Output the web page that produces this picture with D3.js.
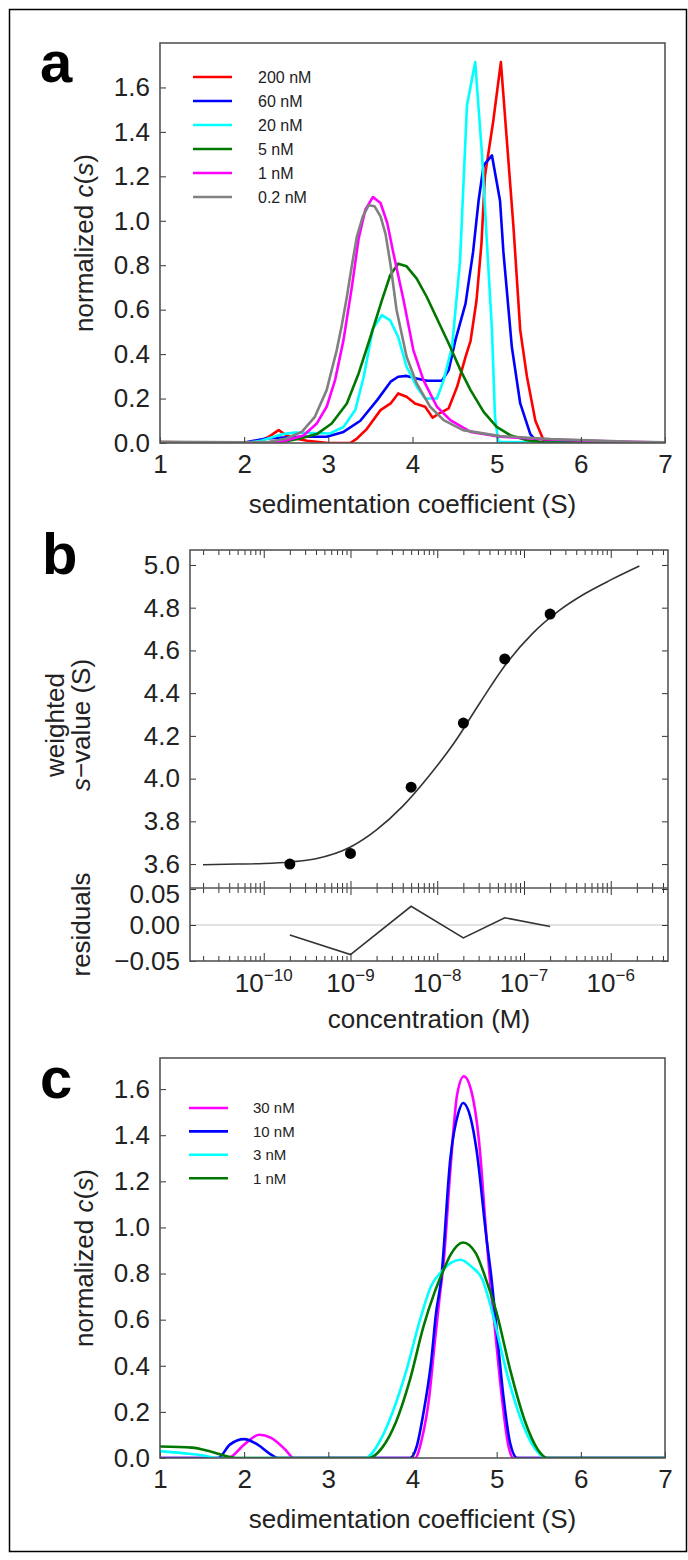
<!DOCTYPE html>
<html>
<head>
<meta charset="utf-8">
<script src="https://cdn.jsdelivr.net/npm/d3@7"></script>
<style>
  body { margin: 0; background: #fff; }
</style>
</head>
<body>
<script>
// ---- panel a: c(s) at several loading concentrations ----
const aNames = ["200 nM", "60 nM", "20 nM", "5 nM", "1 nM", "0.2 nM"];
const aColors = ["#ff0000", "#0000ff", "#00ffff", "#007800", "#ff00ff", "#808080"];
const a200 = [[1.0,0.004],[1.5,0.002],[2.0,0.0],[2.2,0.01],[2.3,0.03],[2.41,0.058],[2.5,0.035],[2.6,0.02],[2.75,0.01],[3.0,0.0],[3.26,0.0],[3.34,0.02],[3.45,0.06],[3.62,0.148],[3.74,0.178],[3.83,0.223],[3.93,0.208],[4.03,0.178],[4.15,0.163],[4.24,0.114],[4.33,0.136],[4.43,0.156],[4.53,0.253],[4.63,0.388],[4.69,0.46],[4.76,0.64],[4.82,0.9],[4.86,1.2],[4.96,1.45],[5.05,1.714],[5.2,0.97],[5.28,0.508],[5.36,0.298],[5.46,0.1],[5.56,0.01],[6.0,0.003],[7.0,0.0]];
const a60 = [[1.0,0.0],[1.97,0.0],[2.26,0.02],[2.46,0.025],[2.67,0.028],[2.98,0.028],[3.18,0.05],[3.38,0.1],[3.58,0.193],[3.74,0.276],[3.83,0.298],[3.93,0.302],[4.05,0.29],[4.17,0.28],[4.35,0.28],[4.43,0.328],[4.51,0.463],[4.63,0.627],[4.72,0.86],[4.785,1.09],[4.845,1.249],[4.944,1.294],[5.04,1.09],[5.08,0.86],[5.18,0.433],[5.28,0.178],[5.4,0.04],[5.48,0.005],[6.0,0.002],[7.0,0.0]];
const a20 = [[1.0,0.0],[2.0,0.0],[2.2,0.01],[2.46,0.04],[2.6,0.047],[3.02,0.043],[3.18,0.072],[3.32,0.148],[3.42,0.298],[3.53,0.515],[3.636,0.575],[3.735,0.552],[3.83,0.477],[3.93,0.343],[4.05,0.253],[4.15,0.2],[4.29,0.2],[4.37,0.283],[4.47,0.433],[4.565,0.82],[4.647,1.519],[4.745,1.714],[4.825,1.302],[4.88,0.93],[4.944,0.508],[4.98,0.117],[5.02,0.005],[6.0,0.0],[7.0,0.0]];
const a5 = [[1.0,0.0],[2.39,0.0],[2.665,0.02],[2.863,0.04],[3.04,0.088],[3.22,0.178],[3.36,0.313],[3.5,0.477],[3.636,0.642],[3.735,0.755],[3.83,0.807],[3.93,0.795],[4.05,0.74],[4.17,0.657],[4.29,0.56],[4.43,0.448],[4.57,0.328],[4.69,0.238],[4.845,0.14],[5.0,0.073],[5.16,0.035],[5.36,0.012],[5.56,0.003],[7.0,0.0]];
const a1 = [[1.0,0.0],[2.3,0.0],[2.46,0.008],[2.704,0.034],[2.863,0.088],[2.98,0.163],[3.08,0.283],[3.18,0.463],[3.28,0.703],[3.36,0.92],[3.44,1.05],[3.53,1.107],[3.62,1.08],[3.7,0.99],[3.77,0.86],[3.894,0.642],[4.01,0.418],[4.13,0.283],[4.29,0.163],[4.45,0.103],[4.69,0.05],[5.04,0.028],[5.64,0.016],[6.43,0.006],[7.0,0.002]];
const a02 = [[1.0,0.005],[2.0,0.003],[2.3,0.005],[2.5,0.02],[2.685,0.05],[2.84,0.118],[2.98,0.238],[3.1,0.418],[3.16,0.53],[3.22,0.657],[3.28,0.8],[3.34,0.93],[3.41,1.02],[3.48,1.07],[3.55,1.065],[3.62,1.02],[3.68,0.94],[3.74,0.8],[3.81,0.6],[3.93,0.388],[4.05,0.268],[4.21,0.163],[4.37,0.103],[4.6,0.058],[5.04,0.031],[5.64,0.018],[6.62,0.005],[7.0,0.003]];

// ---- panel b: weighted s vs concentration ----
const bConc = [2e-10, 1e-9, 5e-9, 2e-8, 6e-8, 2e-7];
const bSw = [3.60, 3.65, 3.96, 4.26, 4.56, 4.77];
const bResid = [-0.014, -0.041, 0.026, -0.018, 0.010, -0.002];
// fitted isotherm: [log10 concentration, s]
const bFit = [[-10.7,3.597],[-10.3,3.6],[-10.0,3.603],[-9.7,3.61],[-9.4,3.625],[-9.0,3.68],[-8.7,3.76],[-8.4,3.87],[-8.1,4.01],[-7.8,4.17],[-7.5,4.36],[-7.2,4.54],[-6.9,4.68],[-6.6,4.785],[-6.3,4.865],[-6.0,4.93],[-5.67,4.995]];
const bYTicks = [3.6, 3.8, 4.0, 4.2, 4.4, 4.6, 4.8, 5.0];
const bRTicks = [-0.05, 0, 0.05];
const bDecades = [-10, -9, -8, -7, -6];

// ---- panel c ----
const cNames = ["30 nM", "10 nM", "3 nM", "1 nM"];
const cColors = ["#ff00ff", "#0000ff", "#00ffff", "#007800"];
const c30 = [[1.0,0.0],[1.81,0.0],[2.0,0.058],[2.18,0.101],[2.32,0.087],[2.49,0.036],[2.59,0.0],[4.03,0.0],[4.11,0.08],[4.2,0.268],[4.26,0.485],[4.32,0.69],[4.37,0.85],[4.45,1.25],[4.53,1.576],[4.61,1.656],[4.7,1.59],[4.8,1.338],[4.87,1.0],[4.92,0.774],[4.98,0.557],[5.06,0.268],[5.14,0.051],[5.2,0.0],[7.0,0.0]];
const c10 = [[1.0,0.0],[1.69,0.0],[1.83,0.058],[2.0,0.082],[2.16,0.058],[2.32,0.015],[2.4,0.0],[3.97,0.0],[4.05,0.05],[4.13,0.195],[4.22,0.412],[4.28,0.629],[4.34,0.774],[4.45,1.3],[4.545,1.497],[4.6,1.54],[4.695,1.468],[4.76,1.338],[4.88,0.95],[4.94,0.774],[5.0,0.557],[5.08,0.268],[5.16,0.065],[5.245,0.0],[7.0,0.0]];
const c3 = [[1.0,0.03],[1.3,0.02],[1.5,0.012],[1.7,0.0],[3.44,0.0],[3.6,0.065],[3.76,0.195],[3.93,0.383],[4.09,0.6],[4.22,0.745],[4.35,0.81],[4.45,0.845],[4.57,0.86],[4.7,0.83],[4.83,0.774],[4.96,0.615],[5.12,0.369],[5.29,0.166],[5.45,0.043],[5.6,0.0],[7.0,0.0]];
const c1 = [[1.0,0.05],[1.38,0.045],[1.58,0.03],[1.79,0.008],[1.9,0.0],[3.48,0.0],[3.64,0.045],[3.8,0.153],[3.97,0.34],[4.13,0.57],[4.26,0.716],[4.34,0.79],[4.45,0.88],[4.6,0.935],[4.75,0.89],[4.874,0.774],[5.0,0.629],[5.16,0.383],[5.33,0.166],[5.49,0.036],[5.6,0.0],[7.0,0.0]];

const sTicks = [1, 2, 3, 4, 5, 6, 7];
const cYTicks = [0, 0.2, 0.4, 0.6, 0.8, 1.0, 1.2, 1.4, 1.6];

const FONT = '"Liberation Sans", Arial, Helvetica, sans-serif';
const INK = "#222";

const svg = d3.select("body").append("svg")
    .attr("width", 688)
    .attr("height", 1560)
    .style("font-family", FONT);

// outer border
svg.append("rect")
    .attr("x", 9.5).attr("y", 9.5)
    .attr("width", 677).attr("height", 1542)
    .attr("fill", "none").attr("stroke", "#000").attr("stroke-width", 1.5);

function tidy(g, size) {
  g.attr("font-family", null).attr("font-size", size).attr("color", "#333");
  g.select(".domain").remove();
  g.selectAll("text").attr("fill", INK);
}

// c(s) panel (a and c)
function distPanel(id, top, ymax, series, names, colors, leg) {
  const left = 160, right = 665, bottom = top + 400;
  const x = d3.scaleLinear().domain([1, 7]).range([left, right]);
  const y = d3.scaleLinear().domain([0, ymax]).range([bottom, top]);
  const g = svg.append("g");

  g.append("clipPath").attr("id", "clip" + id)
    .append("rect").attr("x", left).attr("y", top)
    .attr("width", right - left).attr("height", bottom - top);

  const line = d3.line().x(d => x(d[0])).y(d => y(d[1])).curve(leg.curve);
  const curves = g.append("g").attr("clip-path", `url(#clip${id})`);
  series.forEach((s, i) => {
    curves.append("path").datum(s)
      .attr("d", line)
      .attr("fill", "none")
      .attr("stroke", colors[i])
      .attr("stroke-width", 2.6)
      .attr("stroke-linejoin", "round");
  });

  g.append("g").attr("transform", `translate(0,${bottom})`)
    .call(d3.axisBottom(x).tickValues(sTicks).tickSize(-6).tickPadding(12).tickFormat(d3.format("d")))
    .call(a => tidy(a, 26));
  g.append("g").attr("transform", `translate(${left},0)`)
    .call(d3.axisLeft(y).tickValues(cYTicks).tickSize(-6).tickPadding(10).tickFormat(d3.format(".1f")))
    .call(a => tidy(a, 26));

  g.append("rect").attr("x", left).attr("y", top)
    .attr("width", right - left).attr("height", bottom - top)
    .attr("fill", "none").attr("stroke", "#555").attr("stroke-width", 1.6);

  // legend
  names.forEach((n, i) => {
    const yy = leg.y + i * leg.step;
    g.append("line").attr("x1", leg.x).attr("x2", leg.x + 39)
      .attr("y1", yy).attr("y2", yy)
      .attr("stroke", colors[i]).attr("stroke-width", 2.6);
    g.append("text").attr("x", leg.tx).attr("y", yy).attr("dy", "0.36em")
      .attr("font-size", leg.font).attr("fill", INK).text(n);
  });

  // axis titles
  g.append("text").attr("x", (left + right) / 2).attr("y", bottom + 70)
    .attr("text-anchor", "middle").attr("font-size", 26).attr("fill", INK)
    .text("sedimentation coefficient (S)");
  const yt = g.append("text")
    .attr("transform", `translate(93,${(top + bottom) / 2}) rotate(-90)`)
    .attr("text-anchor", "middle").attr("font-size", 26).attr("fill", INK);
  yt.append("tspan").text("normalized ");
  yt.append("tspan").attr("font-style", "italic").text("c");
  yt.append("tspan").text("(");
  yt.append("tspan").attr("font-style", "italic").text("s");
  yt.append("tspan").text(")");
}

distPanel("a", 43, 1.8, [a200, a60, a20, a5, a1, a02], aNames, aColors,
  {x: 193, tx: 258, y: 77, step: 24, font: 16, curve: d3.curveLinear});
distPanel("c", 1058, 1.735, [c30, c10, c3, c1], cNames, cColors,
  {x: 189, tx: 253, y: 1108, step: 23.4, font: 15, curve: d3.curveMonotoneX});

// ---- panel b ----
(function () {
  const left = 190, right = 668, top = 550, mid = 888, bottom = 961;
  const x = d3.scaleLog().domain([Math.pow(10, -10.85), Math.pow(10, -5.34)]).range([left, right]);
  const y = d3.scaleLinear().domain([3.488, 5.07]).range([mid, top]);
  const yr = d3.scaleLinear().domain([-0.05, 0.05]).range([bottom, 889]);
  const g = svg.append("g");

  const all = x.ticks();
  const isMajor = v => Math.abs(Math.log10(v) - Math.round(Math.log10(v))) < 1e-6;
  const major = all.filter(isMajor);
  const minor = all.filter(v => !isMajor(v));

  // zero line in residuals
  g.append("line").attr("x1", left).attr("x2", right)
    .attr("y1", yr(0)).attr("y2", yr(0))
    .attr("stroke", "#d8d8d8").attr("stroke-width", 1.5);

  // fit curve
  g.append("path").datum(bFit)
    .attr("d", d3.line().x(d => x(Math.pow(10, d[0]))).y(d => y(d[1])).curve(d3.curveMonotoneX))
    .attr("fill", "none").attr("stroke", "#333").attr("stroke-width", 1.6);

  // data points
  g.selectAll("circle.pt").data(bConc).join("circle")
    .attr("class", "pt")
    .attr("cx", d => x(d)).attr("cy", (d, i) => y(bSw[i]))
    .attr("r", 5.5).attr("fill", "#000");

  // residual trace
  g.append("path").datum(bConc)
    .attr("d", d3.line().x(d => x(d)).y((d, i) => yr(bResid[i])))
    .attr("fill", "none").attr("stroke", "#333").attr("stroke-width", 1.6);

  // log ticks: top (inward), middle (crossing), bottom (inward)
  const tickRow = (axis, vals, size, ty) => {
    g.append("g").attr("transform", `translate(0,${ty})`)
      .call(axis(x).tickValues(vals).tickSize(size).tickFormat(""))
      .call(a => tidy(a, 10));
  };
  tickRow(d3.axisBottom, major, 8, top);
  tickRow(d3.axisBottom, minor, 5, top);
  tickRow(d3.axisBottom, major, 14, mid - 7);
  tickRow(d3.axisBottom, minor, 10, mid - 5);
  tickRow(d3.axisTop, major, 8, bottom);
  tickRow(d3.axisTop, minor, 5, bottom);

  // y ticks
  g.append("g").attr("transform", `translate(${left},0)`)
    .call(d3.axisLeft(y).tickValues(bYTicks).tickSize(-6).tickPadding(10).tickFormat(d3.format(".1f")))
    .call(a => tidy(a, 26));
  g.append("g").attr("transform", `translate(${right},0)`)
    .call(d3.axisRight(y).tickValues(bYTicks).tickSize(-6).tickFormat(""))
    .call(a => tidy(a, 26));
  g.append("g").attr("transform", `translate(${left},0)`)
    .call(d3.axisLeft(yr).tickValues(bRTicks).tickSize(-6).tickPadding(10).tickFormat(d3.format(".2f")))
    .call(a => tidy(a, 26))
    .call(a => a.selectAll("text").filter(d => d > 0.04).attr("dy", "0.5em"));
  g.append("g").attr("transform", `translate(${right},0)`)
    .call(d3.axisRight(yr).tickValues(bRTicks).tickSize(-6).tickFormat(""))
    .call(a => tidy(a, 26));

  // frames
  g.append("rect").attr("x", left).attr("y", top)
    .attr("width", right - left).attr("height", bottom - top)
    .attr("fill", "none").attr("stroke", "#555").attr("stroke-width", 1.6);
  g.append("line").attr("x1", left).attr("x2", right).attr("y1", mid).attr("y2", mid)
    .attr("stroke", "#555").attr("stroke-width", 1.6);

  // decade labels 10^n
  bDecades.forEach(d => {
    const t = g.append("text").attr("x", x(Math.pow(10, d))).attr("y", bottom + 31)
      .attr("text-anchor", "middle").attr("font-size", 26).attr("fill", INK);
    t.append("tspan").text("10");
    t.append("tspan").attr("dy", -11).attr("font-size", 17).text("\u2212" + Math.abs(d));
  });

  g.append("text").attr("x", (left + right) / 2).attr("y", bottom + 67)
    .attr("text-anchor", "middle").attr("font-size", 26).attr("fill", INK)
    .text("concentration (M)");

  g.append("text")
    .attr("transform", `translate(64,${(top + mid) / 2 + 6}) rotate(-90)`)
    .attr("text-anchor", "middle").attr("font-size", 26).attr("fill", INK)
    .text("weighted");
  const sv = g.append("text")
    .attr("transform", `translate(90,${(top + mid) / 2 + 6}) rotate(-90)`)
    .attr("text-anchor", "middle").attr("font-size", 26).attr("fill", INK);
  sv.append("tspan").attr("font-style", "italic").text("s");
  sv.append("tspan").text("\u2212value (S)");
  g.append("text")
    .attr("transform", `translate(90,${(mid + bottom) / 2}) rotate(-90)`)
    .attr("text-anchor", "middle").attr("font-size", 26).attr("fill", INK)
    .text("residuals");
})();

// panel letters
[["a", 40, 82], ["b", 42, 574], ["c", 40, 1098]].forEach(([t, lx, ly]) => {
  svg.append("text").attr("x", lx).attr("y", ly)
    .attr("font-size", 58).attr("font-weight", "bold").attr("fill", "#000").text(t);
});
</script>
</body>
</html>
